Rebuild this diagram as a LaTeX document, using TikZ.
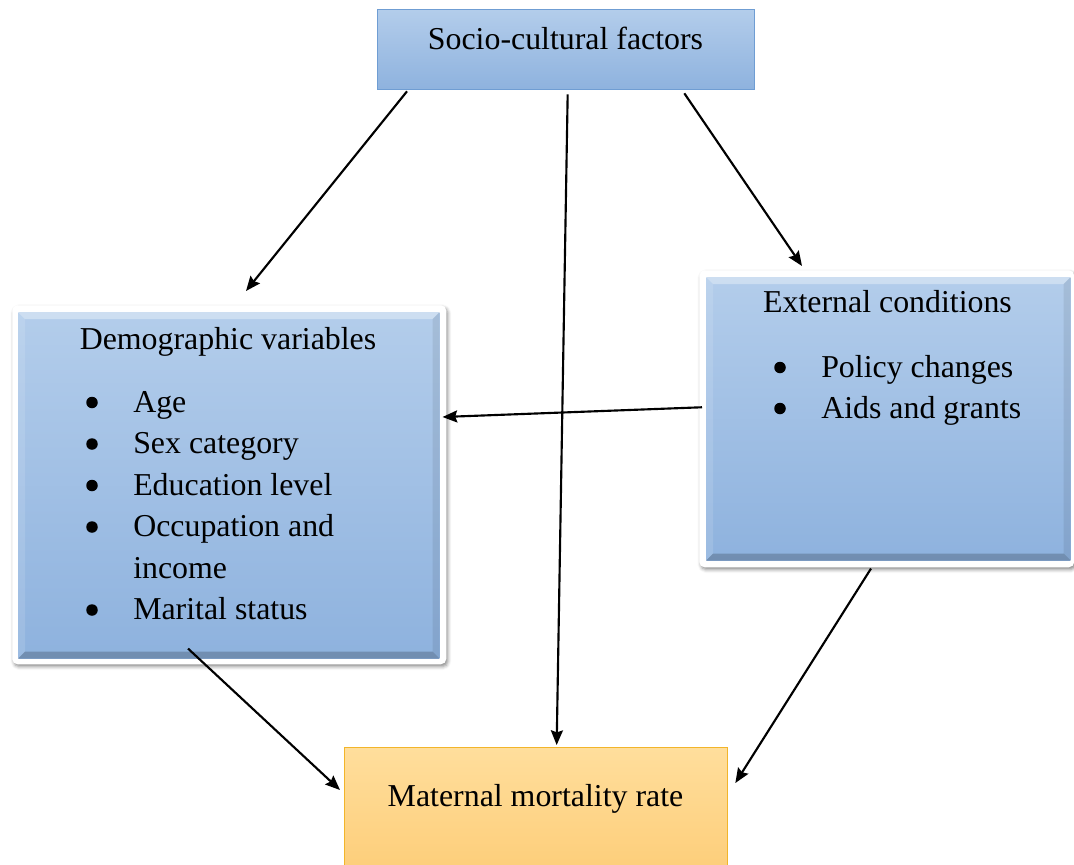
\documentclass[tikz,border=0pt]{standalone}
\usepackage{fontspec}
\setmainfont{Liberation Serif}
\usetikzlibrary{calc,arrows.meta,shadows.blur}
\def\pxu{0.75pt}
\definecolor{bluetop}{HTML}{B3CDEB}
\definecolor{bluebot}{HTML}{8EB2DE}
\definecolor{blueline}{HTML}{6F9DD3}
\definecolor{orgtop}{HTML}{FFDE9C}
\definecolor{orgbot}{HTML}{FDCD78}
\definecolor{orgline}{HTML}{F2B52A}
\newcommand{\bevelit}[2]{%
  \fill[white,opacity=0.35] (#1.north west) -- (#1.north east) -- ($(#1.north east)+(-#2,#2)$) -- ($(#1.north west)+(#2,#2)$) -- cycle;
  \fill[white,opacity=0.12] (#1.north west) -- ($(#1.north west)+(#2,#2)$) -- ($(#1.south west)+(#2,-#2)$) -- (#1.south west) -- cycle;
  \fill[black,opacity=0.2] (#1.south west) -- (#1.south east) -- ($(#1.south east)+(-#2,-#2)$) -- ($(#1.south west)+(#2,-#2)$) -- cycle;
  \fill[black,opacity=0.08] (#1.north east) -- ($(#1.north east)+(-#2,#2)$) -- ($(#1.south east)+(-#2,-#2)$) -- (#1.south east) -- cycle;
}
\begin{document}
\begin{tikzpicture}[x=0.75pt,y=-0.75pt,
  frame/.style={fill=white, rounded corners=4pt, anchor=north west, inner sep=0pt, draw=none,
    blur shadow={shadow xshift=1.2pt, shadow yshift=-1.8pt, shadow blur radius=2.5pt, shadow opacity=45}},
  bluebox/.style={top color=bluetop, bottom color=bluebot, anchor=north west, inner sep=0pt, draw=none},
  plainblue/.style={top color=bluetop, bottom color=bluebot, anchor=north west, inner sep=0pt, draw=blueline, line width=1pt},
  orgbox/.style={top color=orgtop, bottom color=orgbot, anchor=north west, inner sep=0pt, draw=orgline, line width=1pt},
  txt/.style={font=\fontsize{23.9}{29}\selectfont, inner sep=0pt},
  bul/.style={circle, fill=black, inner sep=0pt, minimum size=11.5*\pxu},
  conn/.style={line width=1.6pt, -{Stealth[length=11pt,width=9pt,inset=1.5pt]}}
]
\clip (0,0) rectangle (1074,864);
\useasboundingbox (0,0) rectangle (1074,864);

% top box
\node[plainblue, minimum width=377*\pxu, minimum height=80*\pxu] (soc) at (377,9) {};
\node[txt, anchor=base] (socT) at (565.5,49) {Socio-cultural factors};

% demographic box
\node[frame, minimum width=434*\pxu, minimum height=359*\pxu] (demoF) at (12,305) {};
\node[bluebox, minimum width=421*\pxu, minimum height=346*\pxu] (demo) at (18,312) {};
\bevelit{demo}{7}
\node[txt, anchor=base] (demoT) at (228,349) {Demographic variables};
\node[bul] (db1) at (92,402.5) {};
\node[txt, anchor=base west] (d1) at (133,412) {Age};
\node[bul] (db2) at (92,444) {};
\node[txt, anchor=base west] (d2) at (133,453.5) {Sex category};
\node[bul] (db3) at (92,485.5) {};
\node[txt, anchor=base west] (d3) at (133,495) {Education level};
\node[bul] (db4) at (92,527) {};
\node[txt, anchor=base west] (d4) at (133,536.5) {Occupation and};
\node[txt, anchor=base west] (d4b) at (133,578) {income};
\node[bul] (db5) at (92,610) {};
\node[txt, anchor=base west] (d5) at (133,619.5) {Marital status};

% external box
\node[frame, minimum width=375*\pxu, minimum height=297*\pxu] (extF) at (699,270) {};
\node[bluebox, minimum width=364*\pxu, minimum height=283*\pxu] (ext) at (706,277) {};
\bevelit{ext}{7}
\node[txt, anchor=base] (extT) at (887.5,312) {External conditions};
\node[bul] (eb1) at (780,367.5) {};
\node[txt, anchor=base west] (e1) at (821,377) {Policy changes};
\node[bul] (eb2) at (780,408.5) {};
\node[txt, anchor=base west] (e2) at (821,418) {Aids and grants};

% maternal box
\node[orgbox, minimum width=383*\pxu, minimum height=130*\pxu] (mat) at (344,747) {};
\node[txt, anchor=base] (matT) at (535.5,806) {Maternal mortality rate};

% connectors
\draw[conn] ($(soc.south west)+(30,1)$) -- ($(demoF.north west)+(234,-14)$);
\draw[conn] ($(soc.south)+(1.5,4)$) -- ($(mat.north)+(20.5,-2)$);
\draw[conn] ($(soc.south east)+(-71,3)$) -- ($(extF.north west)+(103,-4)$);
\draw[conn] ($(extF.west)+(3,-11.5)$) -- ($(demoF.north east)+(-4,112)$);
\draw[conn] ($(demoF.south west)+(176,-16)$) -- ($(mat.north west)+(-4,43)$);
\draw[conn] ($(extF.south west)+(172,1)$) -- ($(mat.north east)+(7,36)$);
\end{tikzpicture}
\end{document}
